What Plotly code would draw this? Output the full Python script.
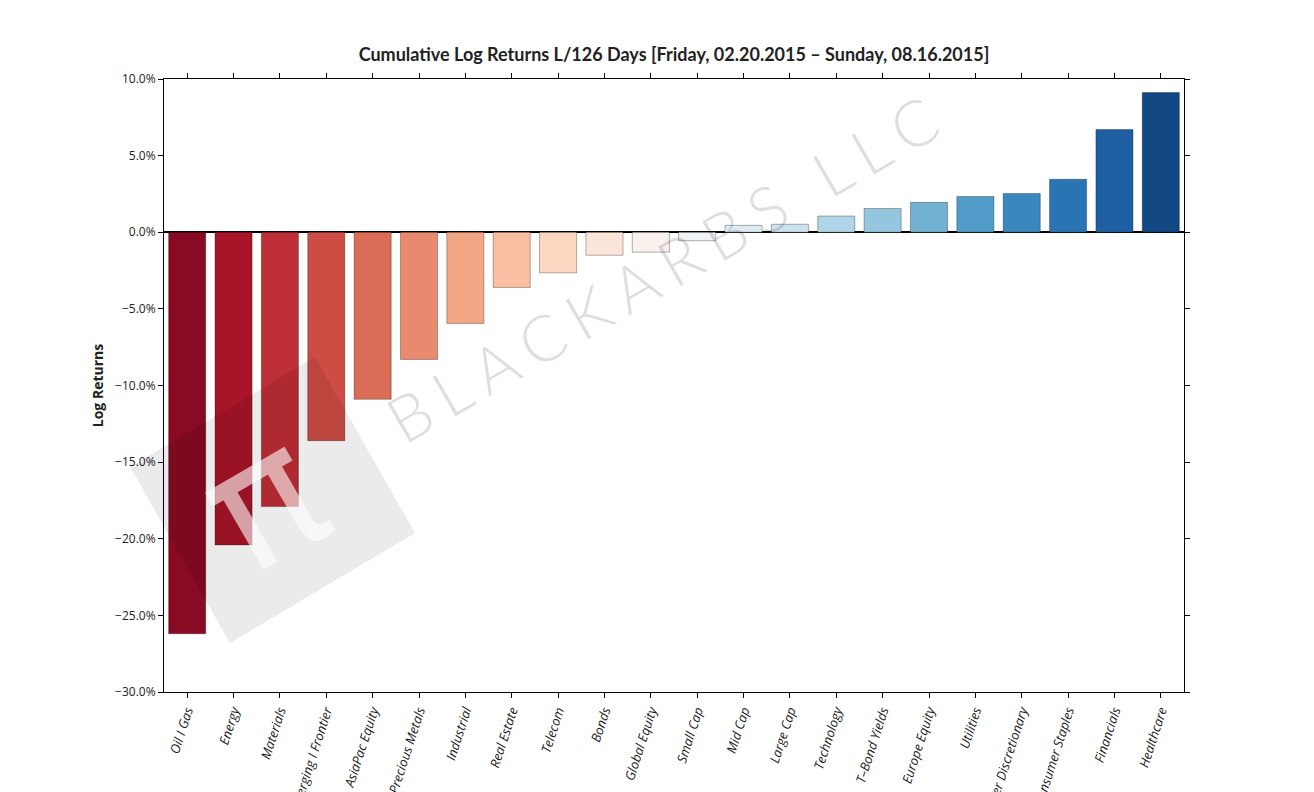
import plotly.graph_objects as go
from plotly.colors import sample_colorscale, diverging

# ---- data ----
categories = ["Oil I Gas", "Energy", "Materials", "Emerging I Frontier", "AsiaPac Equity",
              "Precious Metals", "Industrial", "Real Estate", "Telecom", "Bonds",
              "Global Equity", "Small Cap", "Mid Cap", "Large Cap", "Technology",
              "T\u2013Bond Yields", "Europe Equity", "Utilities", "Consumer Discretionary",
              "Consumer Staples", "Financials", "Healthcare"]
log_returns_pct = [-26.2, -20.4, -17.9, -13.6, -10.9, -8.3, -5.95, -3.6, -2.65, -1.5,
                   -1.3, -0.55, 0.45, 0.52, 1.06, 1.55, 1.95, 2.33, 2.53, 3.46, 6.7, 9.12]
y_ticks = [10, 5, 0, -5, -10, -15, -20, -25, -30]
y_ticklabels = ["10.0%", "5.0%", "0.0%", "\u22125.0%", "\u221210.0%", "\u221215.0%",
                "\u221220.0%", "\u221225.0%", "\u221230.0%"]

n = len(categories)
positions = [(i + 1) / (n + 1) for i in range(n)]
colors = sample_colorscale(diverging.RdBu, positions)

W, H = 1314, 792
OFF = 8  # page body margin
# plot area in screen pixels
SX0, SX1, SY0, SY1 = 164, 1184, 79, 692
L = SX0 - OFF
T = SY0 - OFF
R = W - (SX1 - OFF)
B = H - (SY1 - OFF)
pw, ph = SX1 - SX0, SY1 - SY0

def px(x):
    return (x - SX0) / pw

def py(y):
    return (SY1 - y) / ph

fig = go.Figure()
fig.add_trace(go.Bar(
    x=categories, y=log_returns_pct, width=0.8,
    marker=dict(color=colors, line=dict(color="rgba(0,0,0,0.3)", width=1)),
    showlegend=False,
))

# watermark: rotated square logo
sq = [(130, 467), (315, 357), (415, 533), (230, 643)]
path = "M " + " L ".join(f"{px(a):.4f},{py(b):.4f}" for a, b in sq) + " Z"
fig.add_shape(type="path", path=path, xref="paper", yref="paper",
              fillcolor="rgba(0,0,0,0.08)", line=dict(width=0), layer="above")
fig.add_annotation(text="\u03c0", xref="paper", yref="paper", x=px(262), y=py(500),
                   xanchor="center", yanchor="middle", showarrow=False, textangle=-30,
                   font=dict(family="DejaVu Sans", size=175, color="rgba(255,255,255,0.6)"))
fig.add_annotation(text="\u2009\u200a".join("BLACKARBS LLC"), xref="paper", yref="paper",
                   x=px(662), y=py(268), xanchor="center", yanchor="middle",
                   showarrow=False, textangle=-30,
                   font=dict(family="Lato", size=64, weight=300, color="rgba(0,0,0,0.13)"))

fig.update_layout(
    width=W, height=H,
    margin=dict(l=L, r=R, t=T, b=B, autoexpand=False),
    paper_bgcolor="white", plot_bgcolor="white",
    title=dict(text="<b>Cumulative Log Returns L/126 Days [Friday, 02.20.2015 \u2013 Sunday, 08.16.2015]</b>",
               x=0.5, xref="paper", xanchor="center", y=(H - (55 - OFF)) / H, yanchor="middle",
               font=dict(family="Lato", size=18, color="#222")),
    font=dict(family="Open Sans", color="#222"),
    bargap=0.2,
)
fig.update_xaxes(
    range=[-0.5, n - 0.5], showline=True, linecolor="black", linewidth=1, mirror="ticks",
    ticks="outside", ticklen=5, tickcolor="black", tickangle=-72, automargin=False,
    tickfont=dict(family="Open Sans", size=13, style="italic", color="#222"), showgrid=False,
)
fig.update_yaxes(
    range=[-30, 10], tickvals=y_ticks, ticktext=y_ticklabels, showline=True, linecolor="black",
    linewidth=1, mirror="ticks", ticks="outside", ticklen=5, tickcolor="black",
    tickfont=dict(family="Open Sans", size=12, color="#222"), showgrid=False,
    zeroline=True, zerolinecolor="black", zerolinewidth=2, automargin=False,
    title=dict(text="<b>Log Returns</b>", font=dict(family="Open Sans", size=14, color="#222"),
               standoff=8),
)

fig.write_html("out.html")
